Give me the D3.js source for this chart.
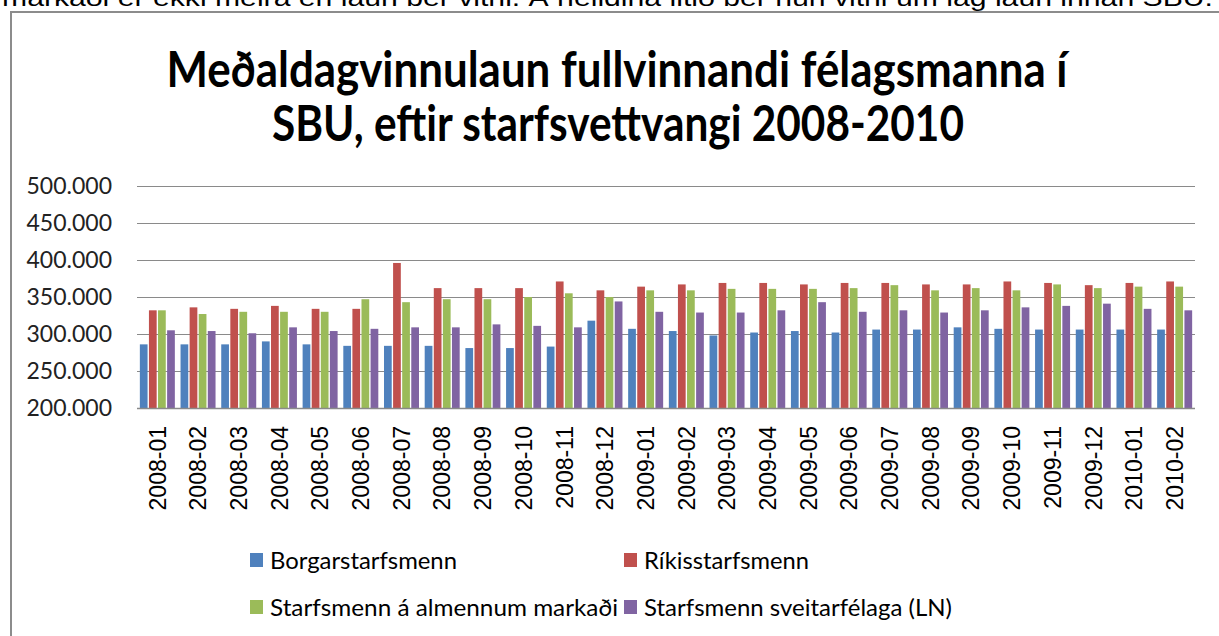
<!DOCTYPE html>
<html>
<head>
<meta charset="utf-8">
<script src="https://cdn.jsdelivr.net/npm/d3@7"></script>
<style>
  body { margin: 0; background: #fff; }
  svg { display: block; }
</style>
</head>
<body>
<div id="chart"></div>
<script>
// months on the x axis
const months = [
  "2008-01", "2008-02", "2008-03", "2008-04", "2008-05", "2008-06", "2008-07",
  "2008-08", "2008-09", "2008-10", "2008-11", "2008-12",
  "2009-01", "2009-02", "2009-03", "2009-04", "2009-05", "2009-06", "2009-07",
  "2009-08", "2009-09", "2009-10", "2009-11", "2009-12",
  "2010-01", "2010-02"
];

const seriesNames = [
  "Borgarstarfsmenn",
  "Ríkisstarfsmenn",
  "Starfsmenn á almennum markaði",
  "Starfsmenn sveitarfélaga (LN)"
];

// values in kr
const borgar = [286000, 286000, 286000, 290000, 286000, 284000, 284000, 284000, 281000, 281000, 283000, 318000,
  307000, 304000, 298000, 302000, 304000, 302000, 306000, 306000, 309000, 307000, 306000, 306000, 306000, 306000];
const rikis = [332000, 336000, 334000, 338000, 334000, 334000, 396000, 362000, 362000, 362000, 371000, 359000,
  364000, 367000, 369000, 369000, 367000, 369000, 369000, 367000, 367000, 371000, 369000, 366000, 369000, 371000];
const almennur = [332000, 327000, 330000, 330000, 330000, 347000, 343000, 347000, 347000, 350000, 355000, 350000,
  359000, 359000, 361000, 361000, 361000, 362000, 366000, 359000, 362000, 359000, 367000, 362000, 364000, 364000];
const sveitar = [305000, 304000, 301000, 309000, 304000, 307000, 309000, 309000, 313000, 311000, 309000, 344000,
  330000, 329000, 329000, 332000, 343000, 330000, 332000, 329000, 332000, 336000, 338000, 341000, 334000, 332000];

const yTicks = [200000, 250000, 300000, 350000, 400000, 450000, 500000];

const colors = ["#4F81BD", "#C0504D", "#9BBB59", "#8064A2"];

const seriesValues = [borgar, rikis, almennur, sveitar];
const table = months.map((m, i) => ({
  month: m,
  values: seriesValues.map((s, k) => ({ key: seriesNames[k], value: s[i], idx: k }))
}));

const WIDTH = 1219, HEIGHT = 636;
const PLOT_LEFT = 137, PLOT_RIGHT = 1195, PLOT_TOP = 186, PLOT_BOTTOM = 408;

const svg = d3.select("#chart").append("svg")
    .attr("width", WIDTH)
    .attr("height", HEIGHT);

// cut-off line of document text above the chart
svg.append("text")
    .attr("x", 2)
    .attr("y", 6)
    .attr("font-family", "Liberation Sans, Arial, sans-serif")
    .attr("font-size", 24)
    .attr("fill", "#000")
    .attr("textLength", 1211)
    .attr("lengthAdjust", "spacingAndGlyphs")
    .text("markaði er ekki meira en laun ber vitni. Á heildina litið ber hún vitni um lág laun innan SBU.");

// chart frame
svg.append("path")
    .attr("d", "M11," + HEIGHT + "V12H" + WIDTH)
    .attr("fill", "none")
    .attr("stroke", "#8c8c8c")
    .attr("stroke-width", 2);

// title
const title = svg.append("g")
    .attr("font-family", "Lato, 'Open Sans', sans-serif")
    .attr("font-weight", "bold")
    .attr("font-size", 49)
    .attr("fill", "#000")
    .attr("text-anchor", "middle");
title.append("text")
    .attr("x", 617)
    .attr("y", 87)
    .attr("textLength", 901)
    .attr("lengthAdjust", "spacingAndGlyphs")
    .text("Meðaldagvinnulaun fullvinnandi félagsmanna í");
title.append("text")
    .attr("x", 618)
    .attr("y", 141)
    .attr("textLength", 692)
    .attr("lengthAdjust", "spacingAndGlyphs")
    .text("SBU, eftir starfsvettvangi 2008-2010");

// scales
const x0 = d3.scaleBand()
    .domain(months)
    .range([PLOT_LEFT, PLOT_RIGHT])
    .paddingInner(0.14)
    .paddingOuter(0.07);

const x1 = d3.scaleBand()
    .domain(d3.range(seriesNames.length))
    .range([0, x0.bandwidth()])
    .paddingInner(0.15);

const y = d3.scaleLinear()
    .domain([200000, 500000])
    .range([PLOT_BOTTOM, PLOT_TOP]);

const fmt = d => d3.format(",")(d).replace(/,/g, ".");

// gridlines
svg.append("g")
    .selectAll("line")
    .data(yTicks.slice(1))
    .enter()
    .append("line")
        .attr("x1", PLOT_LEFT)
        .attr("x2", PLOT_RIGHT)
        .attr("y1", d => Math.round(y(d)) + 0.5)
        .attr("y2", d => Math.round(y(d)) + 0.5)
        .attr("stroke", "#8a8a8a")
        .attr("stroke-width", 1.2);

// y axis labels
svg.append("g")
    .attr("font-family", "Lato, 'Open Sans', sans-serif")
    .attr("font-size", 23)
    .attr("fill", "#222")
    .attr("text-anchor", "end")
    .selectAll("text")
    .data(yTicks)
    .enter()
    .append("text")
        .attr("x", 112)
        .attr("y", d => y(d))
        .attr("dy", "0.36em")
        .text(fmt);

// bars
const groups = svg.append("g")
    .selectAll("g")
    .data(table)
    .enter()
    .append("g")
        .attr("transform", d => "translate(" + x0(d.month) + ",0)");

groups.selectAll("rect")
    .data(d => d.values)
    .enter()
    .append("rect")
        .attr("x", d => x1(d.idx))
        .attr("width", x1.bandwidth())
        .attr("y", d => y(d.value))
        .attr("height", d => y(200000) - y(d.value))
        .attr("fill", d => colors[d.idx]);

// x axis line
svg.append("line")
    .attr("x1", PLOT_LEFT)
    .attr("x2", PLOT_RIGHT)
    .attr("y1", PLOT_BOTTOM + 0.5)
    .attr("y2", PLOT_BOTTOM + 0.5)
    .attr("stroke", "#8a8a8a")
    .attr("stroke-width", 1.5);

// x axis labels, rotated
svg.append("g")
    .attr("font-family", "Liberation Sans, Arial, sans-serif")
    .attr("font-size", 23)
    .attr("fill", "#000")
    .attr("text-anchor", "end")
    .selectAll("text")
    .data(months)
    .enter()
    .append("text")
        .attr("transform", d => "translate(" + (x0(d) + x0.bandwidth() / 2) + ",426) rotate(-90)")
        .attr("dy", "0.36em")
        .text(d => d);

// legend
const legendPos = [
  { x: 250, y: 560, len: 187 },
  { x: 624, y: 560, len: 165 },
  { x: 250, y: 607, len: 348 },
  { x: 624, y: 607, len: 308 }
];

const legend = svg.append("g")
    .attr("font-family", "Lato, 'Open Sans', sans-serif")
    .attr("font-size", 24)
    .attr("fill", "#000");

const items = legend.selectAll("g")
    .data(seriesNames)
    .enter()
    .append("g")
        .attr("transform", (d, i) => "translate(" + legendPos[i].x + "," + legendPos[i].y + ")");

items.append("rect")
    .attr("x", 0)
    .attr("y", -7)
    .attr("width", 13)
    .attr("height", 14)
    .attr("fill", (d, i) => colors[i]);

items.append("text")
    .attr("x", 20)
    .attr("y", 0)
    .attr("dy", "0.36em")
    .attr("textLength", (d, i) => legendPos[i].len)
    .attr("lengthAdjust", "spacingAndGlyphs")
    .text(d => d);
</script>
</body>
</html>
